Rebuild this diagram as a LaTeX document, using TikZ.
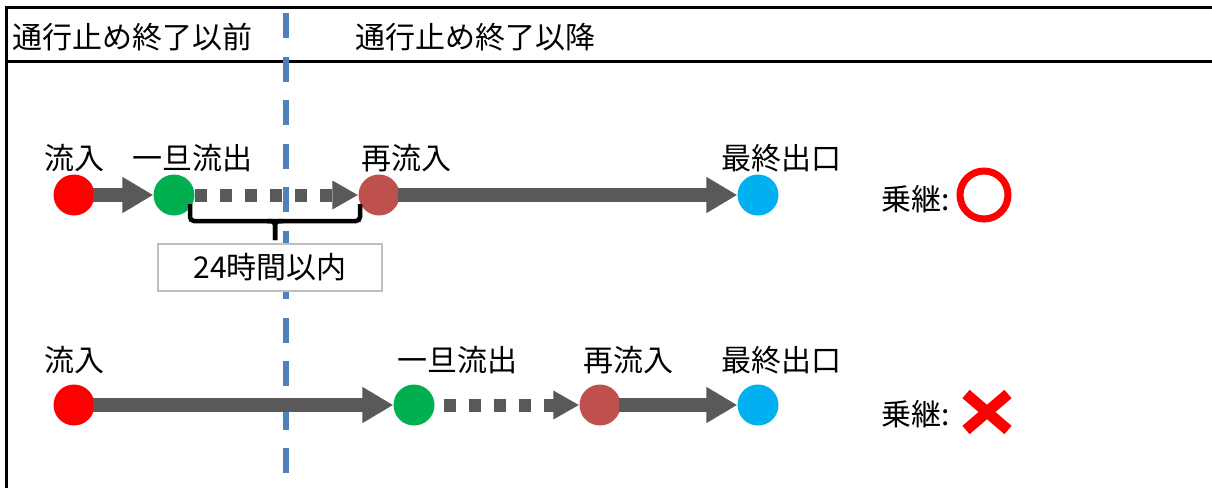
\documentclass[tikz,border=0pt]{standalone}
\usepackage{fontspec}
\setmainfont{Noto Sans CJK JP}
\usetikzlibrary{arrows.meta}
\definecolor{cgray}{HTML}{595959}
\definecolor{cred}{HTML}{FF0000}
\definecolor{cgreen}{HTML}{00B050}
\definecolor{cbrown}{HTML}{C0504D}
\definecolor{ccyan}{HTML}{00B0F0}
\definecolor{cblue}{HTML}{4F81BD}
\definecolor{cbox}{HTML}{BFBFBF}
\begin{document}
\begin{tikzpicture}[x=1pt,y=-1pt,
  every node/.style={font=\fontsize{30}{32}\selectfont, inner sep=0pt},
  dot/.style={circle, minimum size=41pt, inner sep=0pt},
  lbl/.style={anchor=center},
  fat/.style={draw=cgray, line width=14pt, -{Triangle[length=31pt,width=34pt]}, shorten <=-2pt},
  dots/.style={draw=cgray, line width=13pt, dash pattern=on 12pt off 13pt, -{Triangle[length=26pt,width=27pt]}},
  bracepath/.style={draw=black, line width=4.5pt, rounded corners=4pt},
  blueline/.style={draw=cblue, line width=6pt, dash pattern=on 25pt off 18.5pt},
  frame/.style={draw=black, line width=3pt}]
\useasboundingbox (0,0) rectangle (1212,488);
\fill[white] (0,0) rectangle (1212,488);

% frame
\draw[frame] (6.5,488) -- (6.5,7.5) -- (1212,7.5);
\draw[frame] (6.5,61.5) -- (1212,61.5);
\node[anchor=west] (hbefore) at (12,37) {通行止め終了以前};
\node[anchor=west] (hafter) at (355,37) {通行止め終了以降};

% row 1
\node[dot, fill=cred] (r1) at (74,195) {};
\node[dot, fill=cgreen] (g1) at (174,195) {};
\node[dot, fill=cbrown] (b1) at (379,195) {};
\node[dot, fill=ccyan] (c1) at (758,195) {};
\node[lbl] (lr1) at (74,158) {流入};
\node[lbl] (lg1) at (192,158) {一旦流出};
\node[lbl] (lb1) at (406,158) {再流入};
\node[lbl] (lc1) at (781,158) {最終出口};
\draw[fat] (r1) -- (g1);
\draw[dots] (g1) -- (b1);
\draw[fat] (b1) -- (c1);

% brace
\draw[bracepath] (190,204) |- (360,221) -- (360,204);
\draw[bracepath] (267,221) -| (275,240);
\draw[bracepath] (283,221) -| (275,240);

% blue divider
\draw[blueline] (285.5,13) -- (285.5,488);

% time box
\node[draw=cbox, line width=2.5pt, fill=white, minimum width=224pt, minimum height=47pt] (tbox) at (270,267.5) {24時間以内};

% transfer OK
\node[anchor=west] (ok1) at (881,199) {乗継:};
\node[circle, draw=cred, line width=7pt, minimum size=48pt, inner sep=0pt] (okmark) at (984,195) {};

% row 2
\node[dot, fill=cred] (r2) at (74,405) {};
\node[dot, fill=cgreen] (g2) at (414,405) {};
\node[dot, fill=cbrown] (b2) at (600,405) {};
\node[dot, fill=ccyan] (c2) at (758,405) {};
\node[lbl] (lr2) at (74,360) {流入};
\node[lbl] (lg2) at (457,360) {一旦流出};
\node[lbl] (lb2) at (628,360) {再流入};
\node[lbl] (lc2) at (781,360) {最終出口};
\draw[fat] (r2) -- (g2);
\draw[dots, dash phase=-9pt] (g2) -- (b2);
\draw[fat] (b2) -- (c2);

\node[anchor=west] (ng2) at (881,414) {乗継:};
\draw[cred, line width=11pt] (966,394) -- (1008,430) (966,430) -- (1008,394);
\end{tikzpicture}
\end{document}
